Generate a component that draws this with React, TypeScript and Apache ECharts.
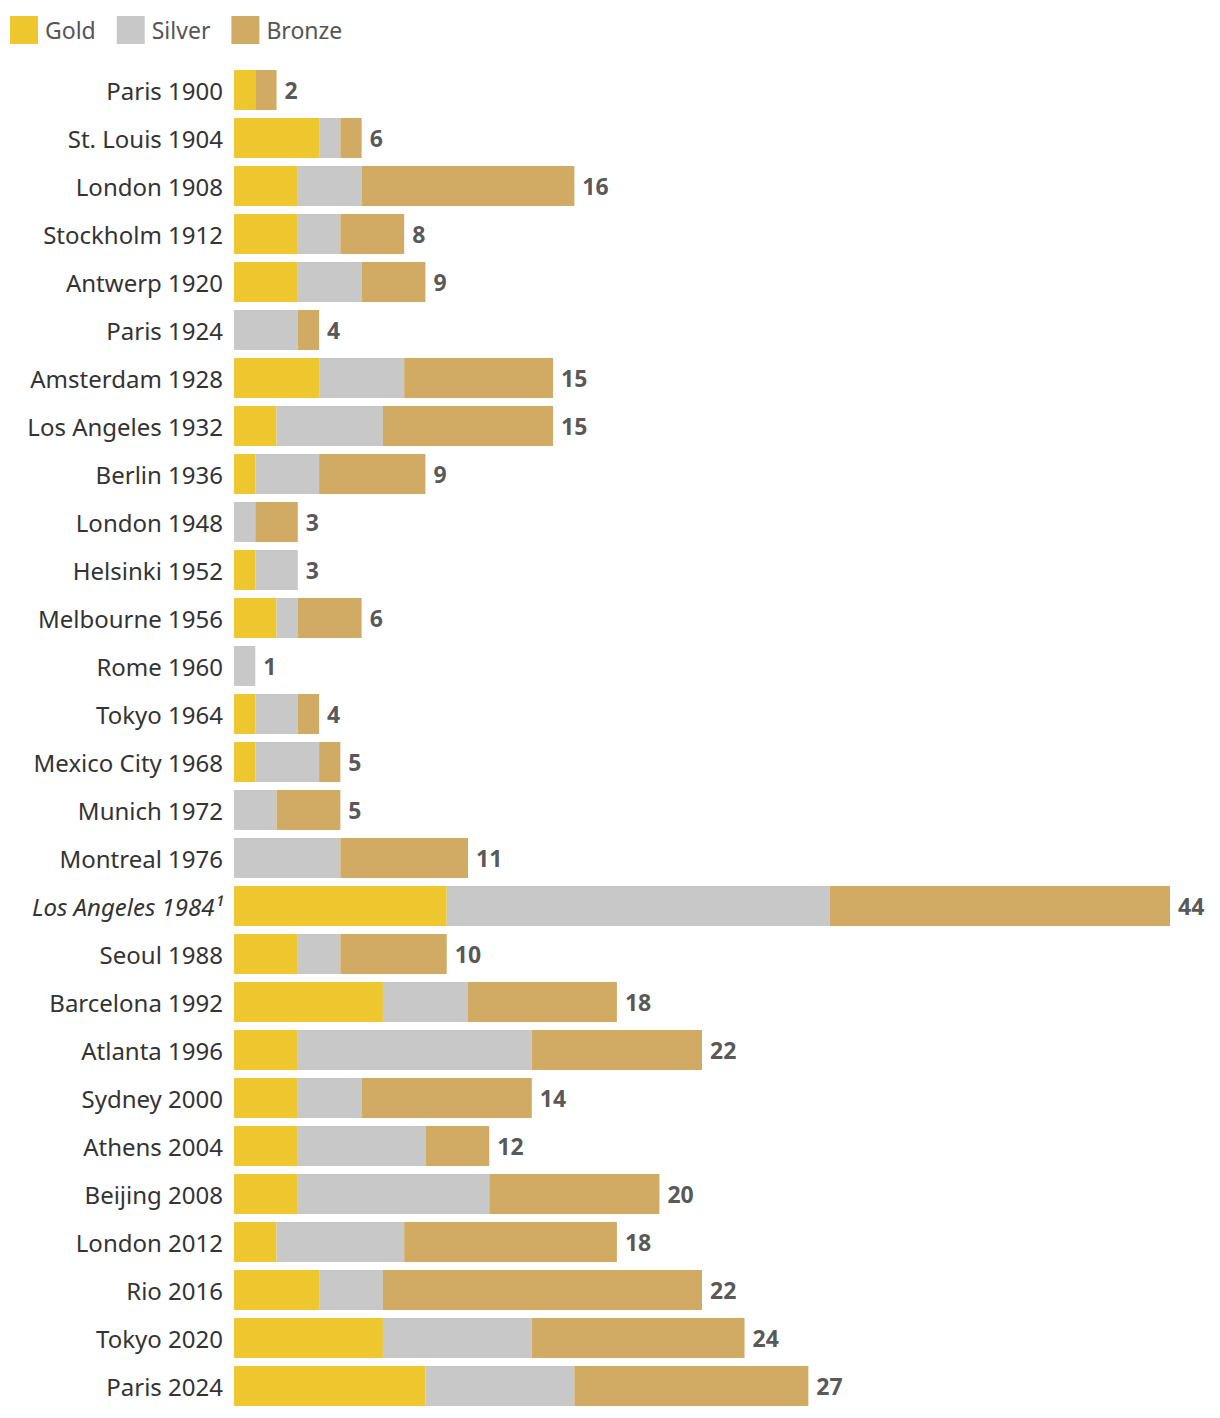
import React, { useEffect, useRef } from "react";
import * as echarts from "echarts";

const categories = [
  "Paris 1900", "St. Louis 1904", "London 1908", "Stockholm 1912", "Antwerp 1920",
  "Paris 1924", "Amsterdam 1928", "Los Angeles 1932", "Berlin 1936", "London 1948",
  "Helsinki 1952", "Melbourne 1956", "Rome 1960", "Tokyo 1964", "Mexico City 1968",
  "Munich 1972", "Montreal 1976", "Los Angeles 1984¹", "Seoul 1988", "Barcelona 1992",
  "Atlanta 1996", "Sydney 2000", "Athens 2004", "Beijing 2008", "London 2012",
  "Rio 2016", "Tokyo 2020", "Paris 2024",
];
const gold = [1, 4, 3, 3, 3, 0, 4, 2, 1, 0, 1, 2, 0, 1, 1, 0, 0, 10, 3, 7, 3, 3, 3, 3, 2, 4, 7, 9];
const silver = [0, 1, 3, 2, 3, 3, 4, 5, 3, 1, 2, 1, 1, 2, 3, 2, 5, 18, 2, 4, 11, 3, 6, 9, 6, 3, 7, 7];
const bronze = [1, 1, 10, 3, 3, 1, 7, 8, 5, 2, 0, 3, 0, 1, 1, 3, 6, 16, 5, 7, 8, 8, 3, 8, 10, 15, 10, 11];
const italicCategory = "Los Angeles 1984¹";

const FONT = "'Noto Sans', sans-serif";

export default function App() {
  const ref = useRef<HTMLDivElement>(null);
  useEffect(() => {
    if (!ref.current) return;
    const chart = echarts.init(ref.current, null, { renderer: "svg" });
    const totals = categories.map((_, i) => gold[i] + silver[i] + bronze[i]);
    const barCommon = {
      type: "bar" as const,
      stack: "medals",
      barWidth: 40,
      emphasis: { disabled: true },
    };
    chart.setOption({
      animation: false,
      textStyle: { fontFamily: FONT },
      legend: {
        left: 5,
        top: 11,
        itemWidth: 28,
        itemHeight: 28,
        itemGap: 21,
        icon: "rect",
        selectedMode: false,
        textStyle: { fontSize: 23, color: "#555", fontFamily: FONT, padding: [0, 0, 0, 2] },
        data: ["Gold", "Silver", "Bronze"],
      },
      grid: { left: 234, top: 66, width: 936, height: 1344, containLabel: false },
      xAxis: {
        type: "value",
        min: 0,
        max: 44,
        show: false,
      },
      yAxis: {
        type: "category",
        data: categories,
        inverse: true,
        axisLine: { show: false },
        axisTick: { show: false },
        splitLine: { show: false },
        axisLabel: {
          margin: 11,
          fontSize: 24,
          color: "#333",
          fontFamily: FONT,
          formatter: (v: string) => (v === italicCategory ? `{it|${v}}` : v),
          rich: {
            it: { fontStyle: "italic", fontSize: 24, color: "#333", fontFamily: FONT },
          },
        },
      },
      series: [
        { ...barCommon, name: "Gold", data: gold, itemStyle: { color: "#EEC72F" } },
        { ...barCommon, name: "Silver", data: silver, itemStyle: { color: "#C8C8C8" } },
        { ...barCommon, name: "Bronze", data: bronze, itemStyle: { color: "#D1AB64" } },
        {
          type: "scatter",
          name: "Total",
          symbolSize: 0,
          silent: true,
          data: totals.map((t, i) => [t, categories[i]]),
          label: {
            show: true,
            position: "right",
            distance: 8,
            fontSize: 23,
            fontWeight: "bold",
            color: "#2b2b2b",
            fontFamily: FONT,
            formatter: (p: any) => String(p.value[0]),
          },
        },
      ],
    });
    return () => chart.dispose();
  }, []);
  return (
    <div
      ref={ref}
      style={{ position: "absolute", left: 0, top: 0, width: 1220, height: 1418 }}
    />
  );
}
